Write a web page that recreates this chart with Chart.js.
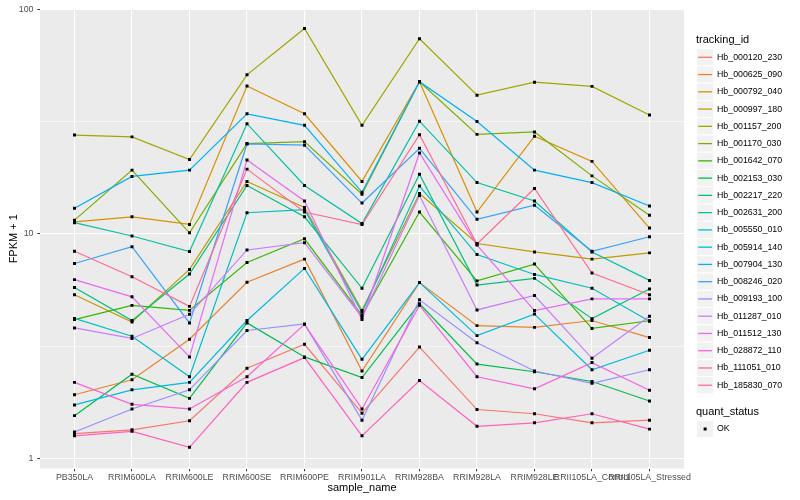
<!DOCTYPE html>
<html>
<head>
<meta charset="utf-8">
<script src="https://cdn.jsdelivr.net/npm/chart.js@4.4.0/dist/chart.umd.min.js"></script>
<style>
  html, body { margin: 0; padding: 0; background: #ffffff; }
  #wrap { width: 800px; height: 500px; position: relative; }
</style>
</head>
<body>
<div id="wrap"><canvas id="c" width="800" height="500"></canvas></div>
<script>
// ---------- data ----------
const sampleNames = ['PB350LA','RRIM600LA','RRIM600LE','RRIM600SE','RRIM600PE','RRIM901LA','RRIM928BA','RRIM928LA','RRIM928LE','RRII105LA_Control','RRII105LA_Stressed'];

const Hb_000120_230 = [1.29, 1.34, 1.47, 2.52, 3.22, 1.59, 3.13, 1.65, 1.58, 1.44, 1.48];
const Hb_000625_090 = [1.92, 2.24, 3.39, 6.08, 7.71, 2.45, 6.06, 3.90, 3.83, 4.11, 3.45];
const Hb_000792_040 = [11.3, 11.9, 11.0, 45.5, 34.2, 17.1, 47.5, 12.5, 27.2, 21.0, 10.6];
const Hb_000997_180 = [5.35, 4.05, 6.94, 17.1, 13.1, 4.56, 15.1, 9.05, 8.30, 7.71, 8.22];
const Hb_001157_200 = [27.5, 27.0, 21.4, 51.0, 82.0, 30.4, 73.8, 41.4, 47.3, 45.3, 33.8];
const Hb_001170_030 = [11.5, 19.2, 10.1, 25.2, 25.7, 15.0, 47.5, 27.7, 28.4, 18.1, 12.1];
const Hb_001642_070 = [4.15, 4.80, 4.56, 7.45, 9.50, 4.33, 12.5, 6.17, 7.33, 3.79, 4.10];
const Hb_002153_030 = [1.55, 2.37, 1.85, 4.01, 2.83, 2.29, 4.88, 2.63, 2.43, 2.20, 1.80];
const Hb_002217_220 = [5.76, 4.11, 6.62, 16.4, 11.9, 5.72, 18.4, 5.91, 6.33, 4.19, 5.68];
const Hb_002631_200 = [11.2, 9.77, 8.33, 30.9, 16.4, 11.1, 31.7, 16.9, 14.0, 8.30, 6.20];
const Hb_005550_010 = [4.20, 3.50, 2.31, 12.4, 12.8, 4.47, 16.3, 8.08, 6.59, 5.72, 4.08];
const Hb_005914_140 = [1.73, 2.02, 2.18, 4.11, 7.01, 2.76, 6.06, 3.52, 4.39, 2.48, 3.03];
const Hb_007904_130 = [13.0, 18.0, 19.2, 34.2, 30.4, 15.3, 47.5, 31.6, 19.2, 16.9, 13.3];
const Hb_008246_020 = [7.37, 8.76, 4.01, 25.1, 24.8, 13.7, 24.0, 11.6, 13.4, 8.36, 9.70];
const Hb_009193_100 = [1.31, 1.66, 2.02, 3.71, 3.97, 1.48, 5.08, 3.27, 2.45, 2.16, 2.48];
const Hb_011287_010 = [3.81, 3.42, 4.38, 8.47, 9.13, 4.25, 14.8, 4.58, 5.31, 2.79, 4.29];
const Hb_011512_130 = [6.25, 5.24, 2.83, 21.3, 14.0, 4.15, 22.9, 8.90, 4.55, 5.13, 5.13];
const Hb_028872_110 = [2.18, 1.74, 1.66, 2.31, 3.95, 1.66, 4.80, 2.31, 2.04, 2.67, 2.01];
const Hb_111051_010 = [1.26, 1.32, 1.12, 2.18, 2.81, 1.26, 2.22, 1.39, 1.44, 1.58, 1.35];
const Hb_185830_070 = [8.36, 6.44, 4.75, 19.4, 12.5, 11.0, 27.6, 9.00, 15.9, 6.69, 5.35];

const seriesNames = ['Hb_000120_230','Hb_000625_090','Hb_000792_040','Hb_000997_180','Hb_001157_200','Hb_001170_030','Hb_001642_070','Hb_002153_030','Hb_002217_220','Hb_002631_200','Hb_005550_010','Hb_005914_140','Hb_007904_130','Hb_008246_020','Hb_009193_100','Hb_011287_010','Hb_011512_130','Hb_028872_110','Hb_111051_010','Hb_185830_070'];
const seriesValues = [Hb_000120_230, Hb_000625_090, Hb_000792_040, Hb_000997_180, Hb_001157_200, Hb_001170_030, Hb_001642_070, Hb_002153_030, Hb_002217_220, Hb_002631_200, Hb_005550_010, Hb_005914_140, Hb_007904_130, Hb_008246_020, Hb_009193_100, Hb_011287_010, Hb_011512_130, Hb_028872_110, Hb_111051_010, Hb_185830_070];

const yTickValues = [1, 10, 100];
const yTickLabels = ['1', '10', '100'];
const yMinorValues = [3.1623, 31.623];
const quantStatus = ['OK'];

// ---------- style ----------
const palette = ['#F8766D','#EA8331','#D89000','#C09B00','#A3A500','#7CAE00','#39B600','#00BB4E','#00BF7D','#00C1A3','#00BFC4','#00BAE0','#00B0F6','#35A2FF','#9590FF','#C77CFF','#E76BF3','#FA62DB','#FF62BC','#FF6C91'];
const FONT = '"Liberation Sans", Arial, Helvetica, sans-serif';

const lineSets = seriesValues.map((vals, i) => ({
  label: seriesNames[i],
  data: vals.map((v, j) => ({ x: j, y: v })),
  borderColor: palette[i],
  backgroundColor: palette[i],
  borderWidth: 1.2,
  pointRadius: 0,
  pointHoverRadius: 0,
  tension: 0,
  fill: false,
  order: 100 - i
}));

const pointSet = {
  label: quantStatus[0],
  data: seriesValues.flatMap(vals => vals.map((v, j) => ({ x: j, y: v }))),
  showLine: false,
  pointStyle: 'rect',
  pointRadius: 2.1,
  pointBorderWidth: 0,
  pointBackgroundColor: '#000000',
  borderColor: '#000000',
  order: 0
};

const panelBg = {
  id: 'panelBg',
  beforeDraw(chart) {
    const { ctx, chartArea: a } = chart;
    ctx.save();
    ctx.fillStyle = '#ffffff';
    ctx.fillRect(0, 0, chart.width, chart.height);
    ctx.fillStyle = '#EBEBEB';
    ctx.fillRect(a.left, a.top, a.right - a.left, a.bottom - a.top);
    ctx.restore();
  }
};

const ggLegend = {
  id: 'ggLegend',
  afterDraw(chart) {
    const ctx = chart.ctx;
    ctx.save();
    ctx.textBaseline = 'middle';
    ctx.textAlign = 'left';
    ctx.fillStyle = '#000000';
    ctx.font = '11px ' + FONT;
    ctx.fillText('tracking_id', 696, 39.5);
    const keyX = 696.5, key = 17.28, start = 57.3, step = 17.26;
    seriesNames.forEach((name, i) => {
      const cy = start + i * step;
      ctx.fillStyle = '#F2F2F2';
      ctx.fillRect(keyX, cy - key / 2, key, key);
      ctx.strokeStyle = '#ffffff';
      ctx.lineWidth = 1;
      ctx.strokeRect(keyX, cy - key / 2, key, key);
      ctx.strokeStyle = palette[i];
      ctx.lineWidth = 1.3;
      ctx.beginPath();
      ctx.moveTo(keyX + 1.7, cy);
      ctx.lineTo(keyX + key - 1.7, cy);
      ctx.stroke();
      ctx.fillStyle = '#000000';
      ctx.font = '8.8px ' + FONT;
      ctx.fillText(name, 717, cy);
    });
    ctx.font = '11px ' + FONT;
    ctx.fillText('quant_status', 696, 411.5);
    const cy = 429;
    ctx.fillStyle = '#F2F2F2';
    ctx.fillRect(keyX, cy - key / 2, key, key);
    ctx.strokeStyle = '#ffffff';
    ctx.lineWidth = 1;
    ctx.strokeRect(keyX, cy - key / 2, key, key);
    ctx.fillStyle = '#000000';
    ctx.fillRect(keyX + key / 2 - 1.5, cy - 1.5, 3, 3);
    ctx.font = '8.8px ' + FONT;
    ctx.fillText(quantStatus[0], 717, cy);
    ctx.restore();
  }
};

new Chart(document.getElementById('c'), {
  type: 'line',
  data: { datasets: [pointSet, ...lineSets] },
  options: {
    responsive: false,
    animation: false,
    devicePixelRatio: 1,
    layout: { padding: { left: 0, right: 116, top: 5.5, bottom: 0 } },
    plugins: { legend: { display: false }, tooltip: { enabled: false } },
    scales: {
      x: {
        type: 'linear',
        min: -0.6,
        max: sampleNames.length - 1 + 0.6,
        afterBuildTicks: s => { s.ticks = sampleNames.map((_, i) => ({ value: i })); },
        afterFit: s => { s.height = 31.5; },
        grid: { color: '#ffffff', lineWidth: 1.07, tickLength: 2.75, tickColor: '#333333', tickWidth: 1, drawTicks: true },
        border: { display: false },
        ticks: {
          autoSkip: false, maxRotation: 0, minRotation: 0, padding: 1.5,
          color: '#4D4D4D', font: { family: FONT, size: 8.8 },
          callback: v => sampleNames[v] !== undefined ? sampleNames[v] : ''
        },
        title: { display: true, text: 'sample_name', color: '#000000', font: { family: FONT, size: 11 }, padding: { top: 0, bottom: 5.9 } }
      },
      y: {
        type: 'logarithmic',
        min: 0.9016,
        max: 100.1,
        afterBuildTicks: s => { s.ticks = [yTickValues[0], yMinorValues[0], yTickValues[1], yMinorValues[1], yTickValues[2]].map(v => ({ value: v })); },
        afterFit: s => { s.width = 40; },
        grid: {
          color: '#ffffff',
          lineWidth: c => (yTickValues.includes(c.tick && c.tick.value) ? 1.07 : 0.53),
          tickLength: 2.75,
          tickWidth: 1,
          tickColor: c => (yTickValues.includes(c.tick && c.tick.value) ? '#333333' : 'rgba(0,0,0,0)')
        },
        border: { display: false },
        ticks: {
          padding: 3.75, color: '#4D4D4D', font: { family: FONT, size: 8.8 },
          callback: v => { const k = yTickValues.indexOf(v); return k >= 0 ? yTickLabels[k] : ''; }
        },
        title: { display: true, text: 'FPKM + 1', color: '#000000', font: { family: FONT, size: 11 }, padding: { top: 7, bottom: 0 } }
      }
    }
  },
  plugins: [panelBg, ggLegend]
});
</script>
</body>
</html>
